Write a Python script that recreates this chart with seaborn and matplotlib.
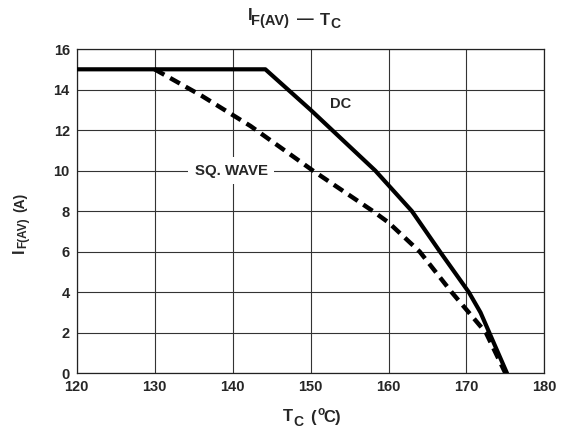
import matplotlib
matplotlib.use("Agg")
import matplotlib.pyplot as plt
import seaborn as sns
import pandas as pd

# Data
dc_tc = [120, 144.2, 150, 158.3, 163.0, 166.6, 170.3, 171.8, 175.2]
dc_if = [15, 15, 13.0, 10.0, 8.0, 6.0, 4.0, 3.0, 0.0]

sq_tc = [130, 136, 142.3, 150.3, 158.0, 160.0, 164.0, 168.1, 172.5, 175.0]
sq_if = [15, 13.7, 12.2, 10.0, 8.0, 7.44, 6.0, 4.0, 2.0, 0.0]

x_ticks = [120, 130, 140, 150, 160, 170, 180]
y_ticks = [0, 2, 4, 6, 8, 10, 12, 14, 16]

sns.set_style("white")
plt.rcParams['font.family'] = ['Liberation Sans', 'DejaVu Sans']

W, H = 569, 434
dc = pd.DataFrame({"tc": dc_tc, "if": dc_if})
sq = pd.DataFrame({"tc": sq_tc, "if": sq_if})

fig = plt.figure(figsize=(W / 100, H / 100), dpi=100)
ax = fig.add_axes([0.1348, 0.14, 0.822, 0.747])

sns.lineplot(data=sq, x="tc", y="if", ax=ax, color="black", lw=3.2,
             sort=False, estimator=None, linestyle=(0, (2.5, 1.5)), zorder=3)
sns.lineplot(data=dc, x="tc", y="if", ax=ax, color="black", lw=3.0,
             sort=False, estimator=None, zorder=4)

ax.set_xlim(120, 180)
ax.set_ylim(0, 16)
ax.set_xticks(x_ticks)
ax.set_yticks(y_ticks)
ax.grid(True, color="#333333", lw=0.8)
ax.set_axisbelow(True)
for s in ax.spines.values():
    s.set_color("#222222")
    s.set_linewidth(0.9)
ax.tick_params(length=0, pad=5, labelsize=10.5)
for lab in ax.get_xticklabels() + ax.get_yticklabels():
    lab.set_fontweight("bold")
ax.set_xlabel("")
ax.set_ylabel("")

ax.text(153.8, 13.3, "DC", ha="center", va="center", fontsize=10.5,
        fontweight="bold", zorder=5)
ax.text(139.8, 10.0, "SQ. WAVE", ha="center", va="center", fontsize=10.8,
        fontweight="bold", zorder=5,
        bbox=dict(facecolor="white", edgecolor="none", pad=4.5))


def piece(s, x, y, size, rot=0):
    """Place a text piece with its baseline-left anchor at pixel (x, y from top)."""
    fig.text(x / W, 1 - y / H, s, fontsize=size, fontweight="bold",
             ha="left", va="baseline", rotation=rot, rotation_mode="anchor")


# Title: I_F(AV) — T_C
piece("I", 247.5, 19.5, 12)
piece("F(AV)", 251.5, 24.5, 10.5)
piece("—", 297, 24, 12)
piece("T", 319.5, 25, 12)
piece("C", 330.5, 27.5, 10)

# X label: T_C (°C)
piece("T", 282.5, 421, 12)
piece("C", 293, 425.5, 10)
piece("(", 310, 422, 12)
piece("o", 317, 415, 8.5)
piece("C", 323, 422, 12)
piece(")", 335, 422, 12)

# Y label: I_F(AV) (A), rotated
piece("I", 24, 253, 11.5, rot=90)
piece("F(AV)", 26, 248, 8.5, rot=90)
piece("(A)", 24, 212, 10, rot=90)

fig.savefig("out.png", dpi=100)
